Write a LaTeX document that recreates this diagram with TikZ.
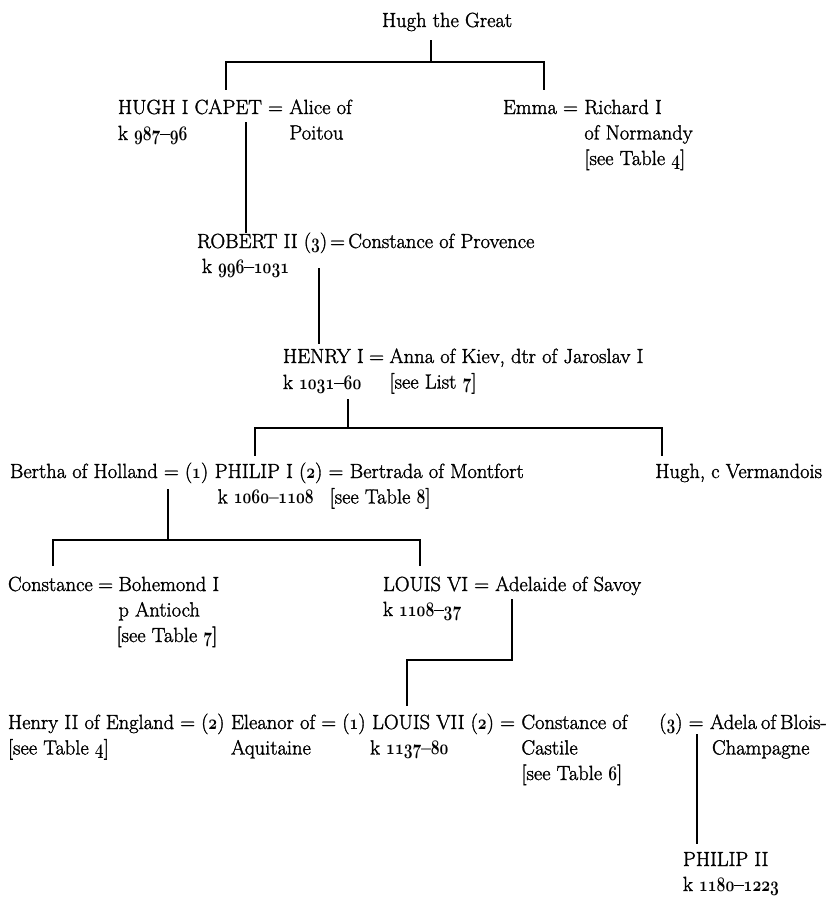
\documentclass[tikz,border=0pt]{standalone}
\usepackage{graphicx}
\usepackage{fontspec}
\setmainfont{Latin Modern Roman}[FakeBold=1.5]
\newcommand\fsz{\fontsize{20.5bp}{24bp}\selectfont}
\newcommand\os[1]{\scalebox{0.74}[1]{\usefont{OML}{cmm}{b}{it}#1}}
\tikzset{
  txt/.style={anchor=base west, inner sep=0pt, outer sep=0pt, font=\fsz},
  link/.style={line width=1.5pt, line cap=rect}
}
\def\sp{6.5bp}
\def\ln{-25.5bp}
\begin{document}
\begin{tikzpicture}[x=1bp,y=-1bp]
\useasboundingbox[fill=white] (0,0) rectangle (830,897);
% generation 0
\node[txt] (hugh) at (382,27) {Hugh the Great};
% generation 1
\node[txt] (capet) at (118,114) {HUGH I CAPET =};
\node[txt] (alice) at ([xshift=\sp]capet.base east) {Alice of};
\node[txt] (capetk) at (118,140) {k \os{987}–\os{96}};
\node[txt] (poitou) at ([yshift=\ln]alice.base west) {Poitou};
\node[txt] (emma) at (503,114) {Emma =};
\node[txt] (richard) at ([xshift=\sp]emma.base east) {Richard I};
\node[txt] (norm) at ([yshift=\ln]richard.base west) {of Normandy};
\node[txt] (emmat) at ([yshift=\ln]norm.base west) {[see Table \os{4}]};
% generation 2
\node[txt] (robert) at (197,248) {ROBERT II (\os{3})};
\node[txt] (constp) at ([xshift=3bp]robert.base east) {=\,Constance of Provence};
\node[txt] (robertk) at (202,273) {k \os{996}–\os{1031}};
% generation 3
\node[txt] (henry) at (283,363) {HENRY I\hspace{5.5bp}=};
\node[txt] (anna) at ([xshift=5.5bp]henry.base east) {Anna of Kiev, dtr of Jaroslav I};
\node[txt] (henryk) at (283,389) {k \os{1031}–\os{60}};
\node[txt] (henryl) at ([yshift=\ln]anna.base west) {[see List \os{7}]};
% generation 4
\node[txt] (bertha) at (10,478) {Bertha of Holland = (\os{1})};
\node[txt] (philip) at ([xshift=\sp]bertha.base east) {PHILIP I (\os{2}) =};
\node[txt] (bertrada) at ([xshift=\sp]philip.base east) {Bertrada of Montfort};
\node[txt] (philipk) at ([xshift=3bp,yshift=\ln]philip.base west) {k \os{1060}–\os{1108}};
\node[txt] (philipt) at ([xshift=16bp]philipk.base east) {[see Table \os{8}]};
\node[txt, anchor=base east] (verm) at (822,478) {Hugh, c Vermandois};
% generation 5
\node[txt] (const) at (8,591) {Constance\hspace{5.5bp}=};
\node[txt] (bohemond) at ([xshift=5.5bp]const.base east) {Bohemond I};
\node[txt] (antioch) at ([yshift=\ln]bohemond.base west) {p Antioch};
\node[txt] (constt) at ([xshift=-2bp,yshift=\ln]antioch.base west) {[see Table \os{7}]};
\node[txt] (louis6) at (383,591) {LOUIS VI = Adelaide of Savoy};
\node[txt] (louis6k) at (383,616) {k \os{1108}–\os{37}};
% generation 6
\node[txt] (henry2) at (8,729) {Henry II of England = (\os{2})};
\node[txt] (eleanor) at ([xshift=\sp]henry2.base east) {Eleanor of = (\os{1})};
\node[txt] (louis7) at ([xshift=\sp]eleanor.base east) {LOUIS VII (\os{2}) =};
\node[txt] (constc) at ([xshift=\sp]louis7.base east) {Constance of};
\node[txt] (henry2t) at ([yshift=\ln]henry2.base west) {[see Table \os{4}]};
\node[txt] (aquit) at ([yshift=\ln]eleanor.base west) {Aquitaine};
\node[txt] (louis7k) at ([xshift=-2bp,yshift=\ln]louis7.base west) {k \os{1137}–\os{80}};
\node[txt] (castile) at ([yshift=\ln]constc.base west) {Castile};
\node[txt] (castilet) at ([yshift=\ln]castile.base west) {[see Table \os{6}]};
\node[txt] (adela) at (710,729) {Adela\hspace{4bp}of\hspace{4bp}Blois-};
\node[txt, anchor=base east] (adela3) at ([xshift=-\sp]adela.base west) {(\os{3}) =};
\node[txt] (champ) at ([xshift=2bp,yshift=\ln]adela.base west) {Champagne};
% generation 7
\node[txt] (philip2) at (683,866) {PHILIP II};
\node[txt] (philip2k) at (683,891) {k \os{1180}–\os{1223}};
% connector points
\coordinate (a0) at (431,41);
\coordinate (a1) at (431,62);
\coordinate (a2) at (226,62);
\coordinate (a3) at (544,62);
\coordinate (a4) at (226,89);
\coordinate (a5) at (544,89);
\coordinate (b0) at (246,123);
\coordinate (b1) at (246,232);
\coordinate (c0) at (319,269);
\coordinate (c1) at (319,343);
\coordinate (d0) at (348,400);
\coordinate (d1) at (348,428);
\coordinate (d2) at (255,428);
\coordinate (d3) at (662,428);
\coordinate (d4) at (255,455);
\coordinate (d5) at (662,455);
\coordinate (e0) at (168,490);
\coordinate (e1) at (168,540);
\coordinate (e2) at (53,540);
\coordinate (e3) at (420,540);
\coordinate (e4) at (53,565);
\coordinate (e5) at (420,565);
\coordinate (f0) at (512,600);
\coordinate (f1) at (512,660);
\coordinate (f2) at (407,660);
\coordinate (f3) at (407,705);
\coordinate (g0) at (697,735);
\coordinate (g1) at (697,843);
% connectors
\draw[link] (a0) -- (a1);
\draw[link] (a4) -- (a2) -- (a3) -- (a5);
\draw[link] (b0) -- (b1);
\draw[link] (c0) -- (c1);
\draw[link] (d0) -- (d1);
\draw[link] (d4) -- (d2) -- (d3) -- (d5);
\draw[link] (e0) -- (e1);
\draw[link] (e4) -- (e2) -- (e3) -- (e5);
\draw[link] (f0) -- (f1) -- (f2) -- (f3);
\draw[link] (g0) -- (g1);
\end{tikzpicture}
\end{document}
